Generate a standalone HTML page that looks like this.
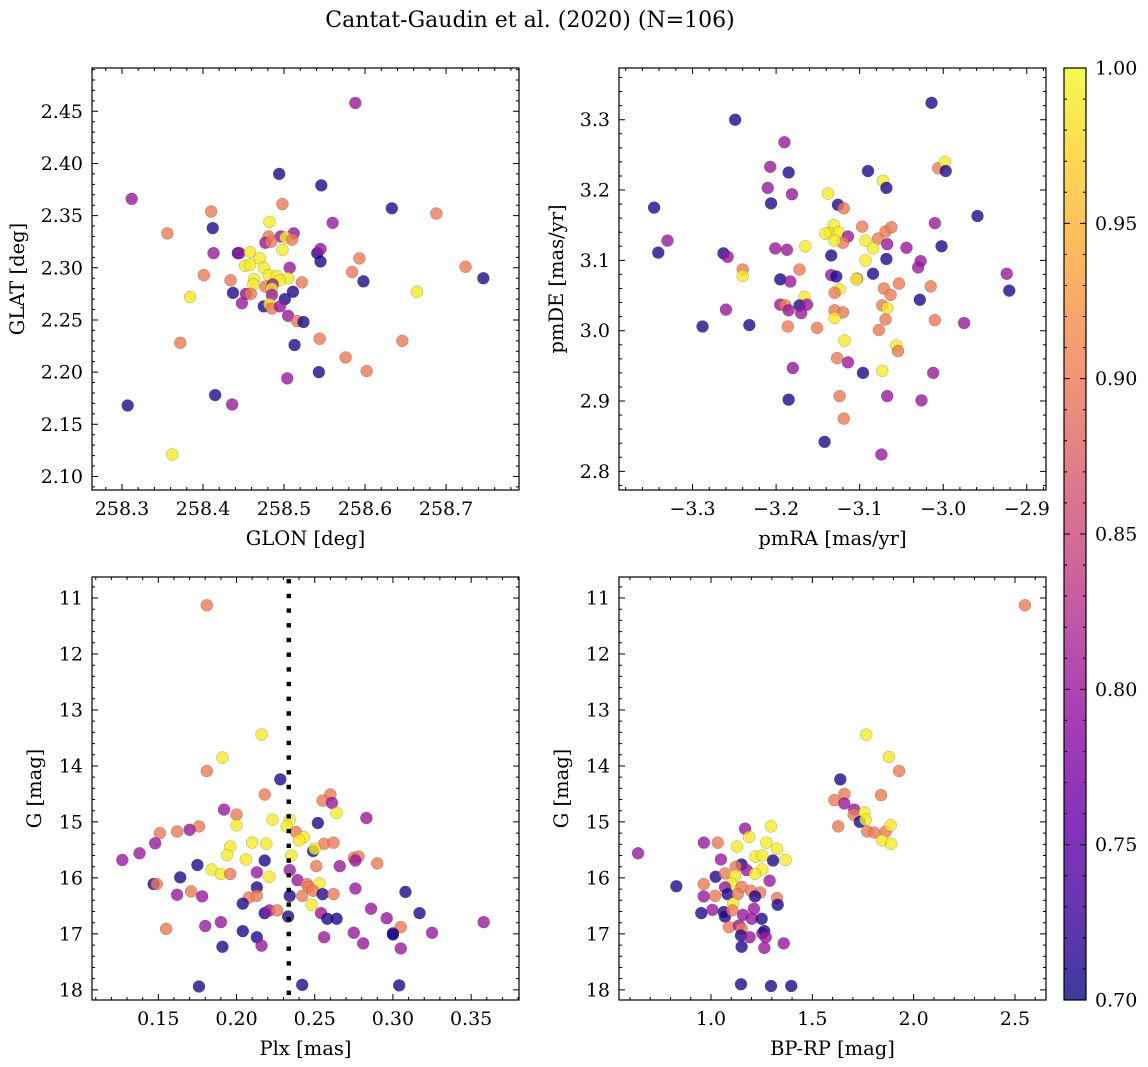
<!DOCTYPE html>
<html><head><meta charset="utf-8">
<style>
html,body{margin:0;padding:0;background:#fff;}
svg{display:block;font-family:"DejaVu Serif","Liberation Serif",serif;}
</style></head>
<body>
<svg id="fig" width="1148" height="1067" viewBox="0 0 1148 1067" xmlns="http://www.w3.org/2000/svg">
<defs>
<linearGradient id="plasma" x1="0" y1="1" x2="0" y2="0">
<stop offset="0" stop-color="rgb(13,8,135)"/><stop offset="0.1" stop-color="rgb(65,4,157)"/>
<stop offset="0.2" stop-color="rgb(106,0,168)"/><stop offset="0.3" stop-color="rgb(143,13,164)"/>
<stop offset="0.4" stop-color="rgb(177,42,144)"/><stop offset="0.5" stop-color="rgb(204,71,120)"/>
<stop offset="0.6" stop-color="rgb(225,100,98)"/><stop offset="0.7" stop-color="rgb(242,132,75)"/>
<stop offset="0.8" stop-color="rgb(252,166,54)"/><stop offset="0.9" stop-color="rgb(252,206,37)"/>
<stop offset="1" stop-color="rgb(240,249,33)"/>
</linearGradient>
</defs>
<text x="530" y="27" font-size="22" text-anchor="middle">Cantat-Gaudin et al. (2020) (N=106)</text>
</svg>
<script>
// ---- Panel 1: GLON vs GLAT ----
const p1Glon = [258.588,258.494,258.546,258.312,258.498,258.633,258.410,258.688,258.560,258.482,258.412,258.356,258.481,258.496,258.512,258.502,258.510,258.477,258.484,258.498,258.413,258.443,258.445,258.458,258.541,258.545,258.545,258.470,258.452,258.458,258.475,258.507,258.593,258.724,258.746,258.401,258.434,258.463,258.481,258.491,258.505,258.495,258.522,258.584,258.598,258.477,258.462,258.486,258.485,258.511,258.664,258.384,258.437,258.453,258.459,258.485,258.501,258.448,258.475,258.482,258.485,258.495,258.505,258.516,258.524,258.544,258.513,258.372,258.646,258.576,258.543,258.602,258.504,258.415,258.307,258.436,258.362];
const p1Glat = [2.458,2.390,2.379,2.366,2.361,2.357,2.354,2.352,2.343,2.344,2.338,2.333,2.330,2.330,2.333,2.329,2.327,2.324,2.325,2.317,2.314,2.314,2.314,2.315,2.314,2.318,2.306,2.309,2.302,2.303,2.300,2.300,2.309,2.301,2.290,2.293,2.288,2.289,2.293,2.292,2.290,2.288,2.286,2.296,2.287,2.282,2.284,2.284,2.280,2.277,2.277,2.272,2.276,2.275,2.275,2.274,2.270,2.266,2.263,2.265,2.261,2.263,2.254,2.249,2.248,2.232,2.226,2.228,2.230,2.214,2.200,2.201,2.194,2.178,2.168,2.169,2.121];
const p1Prob = [0.80,0.71,0.71,0.80,0.90,0.71,0.90,0.90,0.80,0.99,0.71,0.90,0.90,0.80,0.80,0.99,0.90,0.80,0.90,0.99,0.80,0.71,0.80,0.99,0.71,0.80,0.71,0.99,0.99,0.99,0.99,0.80,0.90,0.90,0.71,0.90,0.90,0.99,0.99,0.99,0.99,0.99,0.90,0.90,0.71,0.90,0.99,0.80,0.99,0.71,0.99,0.99,0.71,0.80,0.90,0.80,0.71,0.80,0.71,0.99,0.90,0.80,0.80,0.90,0.71,0.90,0.71,0.90,0.90,0.90,0.71,0.90,0.80,0.71,0.71,0.80,0.99];
// ---- Panel 2: pmRA vs pmDE ----
const p2Pmra = [-3.014,-3.249,-3.190,-3.207,-3.185,-3.090,-3.072,-3.068,-3.006,-2.998,-2.997,-3.210,-3.181,-3.138,-3.206,-3.346,-3.126,-3.119,-2.959,-3.010,-3.131,-3.136,-3.141,-3.125,-3.114,-3.120,-3.130,-3.097,-3.069,-3.062,-3.078,-3.093,-3.084,-3.067,-3.044,-3.002,-3.330,-3.341,-3.263,-3.258,-3.201,-3.187,-3.165,-3.134,-3.093,-3.068,-3.027,-3.030,-2.924,-2.921,-3.240,-3.240,-3.172,-3.195,-3.183,-3.134,-3.128,-3.103,-3.104,-3.084,-3.053,-3.015,-3.124,-3.130,-3.071,-3.063,-3.166,-3.028,-3.195,-3.189,-3.172,-3.163,-3.185,-3.170,-3.260,-3.130,-3.120,-3.130,-3.073,-3.067,-3.069,-3.010,-2.975,-3.288,-3.232,-3.186,-3.151,-3.077,-3.118,-3.056,-3.054,-3.127,-3.114,-3.180,-3.096,-3.073,-3.012,-3.185,-3.124,-3.067,-3.026,-3.119,-3.142,-3.074];
const p2Pmde = [3.324,3.300,3.268,3.233,3.225,3.227,3.213,3.203,3.231,3.240,3.227,3.203,3.194,3.195,3.181,3.175,3.179,3.174,3.163,3.153,3.150,3.139,3.138,3.140,3.134,3.125,3.128,3.148,3.141,3.147,3.131,3.128,3.117,3.123,3.118,3.120,3.128,3.111,3.110,3.105,3.117,3.115,3.120,3.107,3.100,3.102,3.099,3.090,3.081,3.057,3.087,3.078,3.087,3.073,3.070,3.079,3.077,3.074,3.073,3.081,3.067,3.063,3.059,3.054,3.060,3.051,3.048,3.044,3.037,3.036,3.036,3.037,3.029,3.025,3.030,3.029,3.026,3.018,3.036,3.032,3.016,3.015,3.011,3.006,3.008,3.006,3.004,3.001,2.986,2.979,2.971,2.961,2.955,2.947,2.940,2.943,2.940,2.902,2.907,2.907,2.901,2.875,2.842,2.824];
const p2Prob = [0.71,0.71,0.80,0.80,0.71,0.71,0.99,0.71,0.90,0.99,0.71,0.80,0.80,0.99,0.71,0.71,0.71,0.90,0.71,0.80,0.99,0.99,0.99,0.99,0.80,0.90,0.99,0.90,0.90,0.90,0.90,0.99,0.99,0.80,0.80,0.71,0.80,0.71,0.71,0.80,0.80,0.80,0.99,0.71,0.99,0.71,0.80,0.80,0.80,0.71,0.90,0.99,0.90,0.71,0.80,0.80,0.71,0.90,0.99,0.71,0.90,0.90,0.99,0.90,0.90,0.90,0.99,0.71,0.80,0.90,0.71,0.80,0.80,0.80,0.80,0.90,0.90,0.99,0.90,0.99,0.90,0.90,0.80,0.71,0.71,0.90,0.90,0.90,0.99,0.99,0.90,0.90,0.80,0.80,0.71,0.99,0.80,0.71,0.90,0.80,0.80,0.90,0.71,0.80];
// ---- Panel 3: Plx vs G ----
const p3Plx = [0.181,0.216,0.191,0.181,0.228,0.218,0.260,0.255,0.261,0.192,0.264,0.200,0.283,0.223,0.234,0.252,0.200,0.232,0.176,0.170,0.151,0.162,0.238,0.243,0.240,0.148,0.138,0.127,0.196,0.210,0.219,0.256,0.262,0.249,0.250,0.194,0.235,0.206,0.218,0.275,0.278,0.276,0.290,0.251,0.266,0.175,0.184,0.190,0.196,0.213,0.221,0.234,0.164,0.239,0.147,0.149,0.213,0.245,0.246,0.253,0.249,0.255,0.262,0.276,0.308,0.162,0.171,0.178,0.208,0.213,0.234,0.242,0.248,0.204,0.286,0.218,0.221,0.226,0.233,0.254,0.258,0.264,0.296,0.317,0.358,0.190,0.155,0.180,0.204,0.305,0.300,0.300,0.275,0.325,0.256,0.213,0.216,0.191,0.281,0.305,0.176,0.242,0.304];
const p3G = [11.13,13.44,13.85,14.09,14.24,14.51,14.51,14.62,14.66,14.78,14.84,14.87,14.93,14.96,14.96,15.02,15.06,15.08,15.08,15.14,15.20,15.17,15.18,15.27,15.33,15.38,15.56,15.68,15.44,15.37,15.39,15.39,15.37,15.52,15.48,15.59,15.60,15.67,15.69,15.64,15.62,15.69,15.74,15.79,15.79,15.77,15.85,15.93,15.93,15.90,15.98,15.86,15.99,16.04,16.11,16.11,16.17,16.11,16.16,16.10,16.23,16.29,16.29,16.19,16.25,16.30,16.24,16.33,16.35,16.32,16.32,16.32,16.48,16.46,16.55,16.63,16.58,16.58,16.69,16.63,16.73,16.73,16.72,16.63,16.79,16.79,16.91,16.86,16.95,16.88,16.99,17.01,16.98,16.98,17.06,17.06,17.21,17.23,17.17,17.26,17.94,17.91,17.92];
const p3Prob = [0.90,0.99,0.99,0.90,0.71,0.90,0.90,0.90,0.80,0.80,0.99,0.90,0.80,0.99,0.99,0.71,0.99,0.99,0.90,0.80,0.90,0.90,0.90,0.99,0.99,0.80,0.80,0.80,0.99,0.99,0.99,0.90,0.90,0.71,0.99,0.99,0.99,0.99,0.71,0.90,0.90,0.80,0.90,0.90,0.80,0.71,0.99,0.99,0.90,0.80,0.99,0.80,0.71,0.80,0.71,0.90,0.71,0.90,0.90,0.99,0.90,0.71,0.90,0.80,0.71,0.80,0.90,0.80,0.90,0.90,0.71,0.90,0.99,0.71,0.80,0.71,0.80,0.90,0.71,0.80,0.71,0.71,0.80,0.71,0.80,0.80,0.90,0.80,0.71,0.90,0.71,0.71,0.80,0.80,0.80,0.71,0.80,0.71,0.80,0.80,0.71,0.71,0.71];
const p3PlxRef = [0.2334];
// ---- Panel 4: BP-RP vs G ----
const p4Bprp = [2.549,1.766,1.878,1.928,1.638,1.839,1.658,1.609,1.658,1.707,1.704,1.757,1.734,1.763,1.628,1.771,1.806,1.862,1.886,1.845,1.888,1.168,1.296,1.188,0.965,1.033,1.273,1.128,1.326,0.640,1.220,1.253,1.368,1.306,1.049,1.151,1.122,1.176,1.253,1.217,1.023,1.069,1.118,1.289,0.829,0.964,1.102,1.069,1.151,1.197,1.243,0.964,1.020,1.082,1.132,1.217,1.326,1.329,1.109,0.952,1.007,1.063,1.069,1.105,1.158,1.212,1.201,1.250,1.089,1.138,1.151,1.148,1.191,1.253,1.263,1.270,1.263,1.151,1.359,1.148,1.296,1.396];
const p4G = [11.13,13.44,13.84,14.09,14.24,14.52,14.50,14.61,14.67,14.78,14.87,14.83,15.00,14.96,15.08,15.17,15.19,15.17,15.06,15.33,15.39,15.12,15.08,15.27,15.37,15.37,15.37,15.44,15.48,15.56,15.62,15.60,15.68,15.69,15.67,15.76,15.80,15.86,15.85,15.93,15.98,15.92,15.96,16.05,16.15,16.11,16.10,16.17,16.16,16.23,16.26,16.33,16.32,16.29,16.29,16.33,16.36,16.48,16.46,16.63,16.57,16.61,16.69,16.58,16.66,16.55,16.73,16.73,16.88,16.85,16.91,17.03,17.06,16.99,16.95,17.06,17.25,17.23,17.17,17.90,17.93,17.93];
const p4Prob = [0.90,0.99,0.99,0.90,0.71,0.90,0.90,0.90,0.80,0.80,0.90,0.99,0.71,0.99,0.90,0.90,0.90,0.90,0.99,0.99,0.99,0.80,0.99,0.99,0.80,0.90,0.99,0.99,0.99,0.80,0.99,0.99,0.99,0.71,0.80,0.71,0.90,0.80,0.99,0.99,0.71,0.90,0.99,0.80,0.71,0.90,0.99,0.80,0.90,0.90,0.90,0.80,0.90,0.71,0.90,0.71,0.90,0.71,0.99,0.71,0.80,0.71,0.71,0.90,0.80,0.80,0.80,0.71,0.90,0.80,0.90,0.71,0.80,0.80,0.71,0.80,0.80,0.71,0.80,0.71,0.71,0.71];
// ---- colorbar ticks ----
const cbTicks = [0.70,0.75,0.80,0.85,0.90,0.95,1.00];
const cbMin = 0.70, cbMax = 1.00;

const NS = "http://www.w3.org/2000/svg";
const svg = document.getElementById('fig');
function mk(tag, attrs, parent){const e=document.createElementNS(NS,tag);for(const k in attrs)e.setAttribute(k,attrs[k]);(parent||svg).appendChild(e);return e;}
const stops=[[13,8,135],[65,4,157],[106,0,168],[143,13,164],[177,42,144],[204,71,120],[225,100,98],[242,132,75],[252,166,54],[252,206,37],[240,249,33]];
function plasma(v){let t=(v-cbMin)/(cbMax-cbMin);t=Math.max(0,Math.min(1,t));const f=t*10;const i=Math.min(9,Math.floor(f));const r=f-i;const a=stops[i],b=stops[i+1];return `rgb(${Math.round(a[0]+(b[0]-a[0])*r)},${Math.round(a[1]+(b[1]-a[1])*r)},${Math.round(a[2]+(b[2]-a[2])*r)})`;}
function fmt(v,d){const s=Math.abs(v).toFixed(d);return (v<-1e-9?'\u2212':'')+s;}
function range(lo,hi,step){const out=[];const s=Math.ceil(lo/step-1e-6);for(let k=s;k*step<=hi+1e-9;k++)out.push(+(k*step).toFixed(6));return out;}

function panel(c){
  const g=mk('g',{});
  
  
  const sx=v=>c.L+(v-c.xmin)/(c.xmax-c.xmin)*(c.R-c.L);
  const sy=c.invert?(v=>c.T+(v-c.ymin)/(c.ymax-c.ymin)*(c.B-c.T)):(v=>c.B-(v-c.ymin)/(c.ymax-c.ymin)*(c.B-c.T));
  const pts=mk('g',{},g);
  
  
  const n=Math.min(c.xs.length,c.ys.length,c.cs.length);
  for(let i=0;i<n;i++){
    const px=sx(c.xs[i]),py=sy(c.ys[i]);
    if(px<c.L||px>c.R||py<c.T||py>c.B)continue;
    const ci=mk('circle',{cx:px,cy:py,r:6,fill:plasma(c.cs[i]),'fill-opacity':0.8,stroke:'rgba(60,60,60,0.5)','stroke-width':0.4},pts);
    
    
  }
  if(c.extra)c.extra(g,sx,sy);
  const fr=mk('rect',{x:c.L,y:c.T,width:c.R-c.L,height:c.B-c.T,fill:'none',stroke:'#000','stroke-width':1.2},g);
  
  
  let d='';
  const maj=6,mi=3;
  range(c.xmin,c.xmax,c.xMinor).forEach(v=>{const x=sx(v);d+=`M${x},${c.B}v${-mi}M${x},${c.T}v${mi}`;});
  range(c.ymin,c.ymax,c.yMinor).forEach(v=>{const y=sy(v);d+=`M${c.L},${y}h${mi}M${c.R},${y}h${-mi}`;});
  c.xMaj.forEach(v=>{const x=sx(v);d+=`M${x},${c.B}v${-maj}M${x},${c.T}v${maj}`;});
  c.yMaj.forEach(v=>{const y=sy(v);d+=`M${c.L},${y}h${maj}M${c.R},${y}h${-maj}`;});
  const tk=mk('path',{d:d,stroke:'#000','stroke-width':1,fill:'none'},g);
  
  
  c.xMaj.forEach(v=>{const t=mk('text',{x:sx(v),y:c.B+25,'font-size':19,'text-anchor':'middle'},g);t.textContent=fmt(v,c.xd);
    
    });
  c.yMaj.forEach(v=>{const t=mk('text',{x:c.L-9,y:sy(v)+6.5,'font-size':19,'text-anchor':'end'},g);t.textContent=fmt(v,c.yd);
    
    });
  const xl=mk('text',{x:(c.L+c.R)/2,y:c.B+55,'font-size':19.5,'text-anchor':'middle'},g);xl.textContent=c.xlabel;
  
  
  const yl=mk('text',{x:c.ylx,y:(c.T+c.B)/2,'font-size':19.5,'text-anchor':'middle',transform:`rotate(-90 ${c.ylx} ${(c.T+c.B)/2})`},g);yl.textContent=c.ylabel;
  
  
}

panel({name:'panel-glon-glat',L:92,R:519,T:68,B:490,xmin:258.263,xmax:258.790,ymin:2.087,ymax:2.4915,
  xMaj:[258.3,258.4,258.5,258.6,258.7],xMinor:0.02,yMaj:[2.10,2.15,2.20,2.25,2.30,2.35,2.40,2.45],yMinor:0.01,xd:1,yd:2,
  xs:p1Glon,ys:p1Glat,cs:p1Prob,xlabel:'GLON [deg]',ylabel:'GLAT [deg]',ylx:24});
panel({name:'panel-pmra-pmde',L:619,R:1046,T:68,B:490,xmin:-3.388,xmax:-2.877,ymin:2.7735,ymax:3.3735,
  xMaj:[-3.3,-3.2,-3.1,-3.0,-2.9],xMinor:0.02,yMaj:[2.8,2.9,3.0,3.1,3.2,3.3],yMinor:0.02,xd:1,yd:1,
  xs:p2Pmra,ys:p2Pmde,cs:p2Prob,xlabel:'pmRA [mas/yr]',ylabel:'pmDE [mas/yr]',ylx:563});
panel({name:'panel-plx-g',L:92,R:519,T:577,B:1000,xmin:0.1076,xmax:0.3806,ymin:10.6245,ymax:18.181,invert:true,
  xMaj:[0.15,0.20,0.25,0.30,0.35],xMinor:0.01,yMaj:[11,12,13,14,15,16,17,18],yMinor:0.2,xd:2,yd:0,
  xs:p3Plx,ys:p3G,cs:p3Prob,xlabel:'Plx [mas]',ylabel:'G [mag]',ylx:41,
  extra:(g,sx,sy)=>{p3PlxRef.forEach(v=>{const l=mk('line',{x1:sx(v),x2:sx(v),y1:579,y2:1000,stroke:'#000','stroke-width':4.4,'stroke-dasharray':'4.4 10.3'},g);
    
    });}});
panel({name:'panel-bprp-g',L:619,R:1046,T:577,B:1000,xmin:0.546,xmax:2.653,ymin:10.6245,ymax:18.181,invert:true,
  xMaj:[1.0,1.5,2.0,2.5],xMinor:0.1,yMaj:[11,12,13,14,15,16,17,18],yMinor:0.2,xd:1,yd:0,
  xs:p4Bprp,ys:p4G,cs:p4Prob,xlabel:'BP-RP [mag]',ylabel:'G [mag]',ylx:568});

(function(){
  const L=1064,R=1086,T=68,B=1000;
  const g=mk('g',{});
  
  
  const r=mk('rect',{x:L,y:T,width:R-L,height:B-T,fill:'url(#plasma)','fill-opacity':0.8},g);
  
  
  mk('rect',{x:L,y:T,width:R-L,height:B-T,fill:'none',stroke:'#000','stroke-width':1.2},g);
  const sy=v=>B-(v-cbMin)/(cbMax-cbMin)*(B-T);
  let d='';
  range(cbMin,cbMax,0.01).forEach(v=>{d+=`M${R},${sy(v)}h-3M${L},${sy(v)}h3`;});
  cbTicks.forEach(v=>{d+=`M${R},${sy(v)}h-6M${L},${sy(v)}h6`;});
  mk('path',{d:d,stroke:'#000','stroke-width':1},g);
  cbTicks.forEach(v=>{const t=mk('text',{x:R+9,y:sy(v)+6.5,'font-size':19},g);t.textContent=v.toFixed(2);
    
    });
})();
</script>
</body></html>
